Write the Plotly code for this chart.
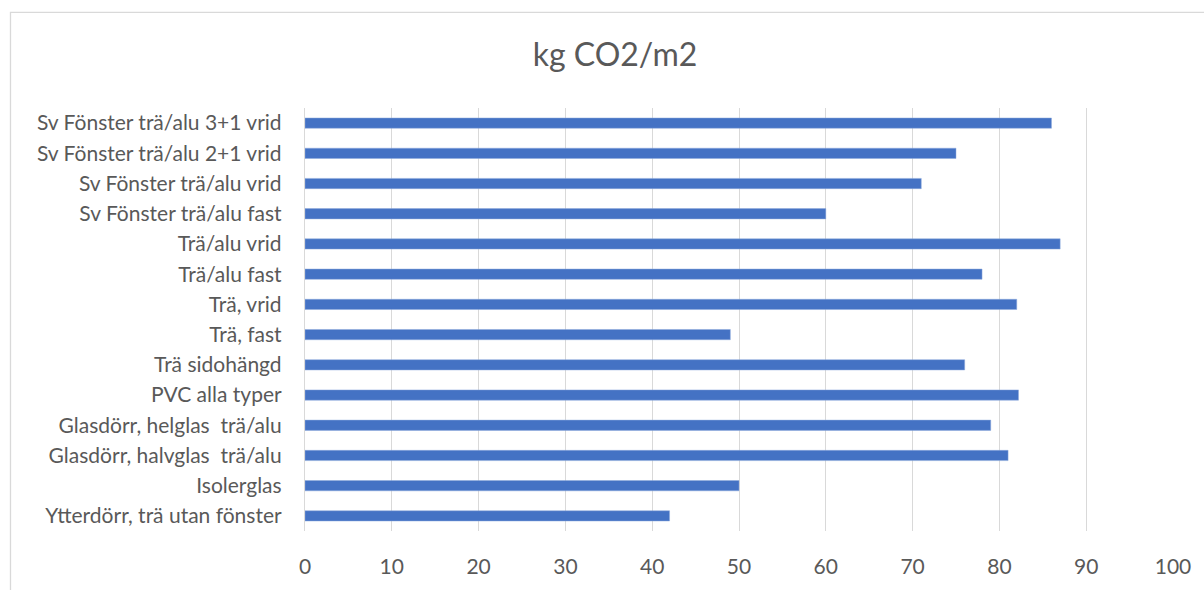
import plotly.graph_objects as go

categories = [
    "Sv Fönster trä/alu 3+1 vrid",
    "Sv Fönster trä/alu 2+1 vrid",
    "Sv Fönster trä/alu vrid",
    "Sv Fönster trä/alu fast",
    "Trä/alu vrid",
    "Trä/alu fast",
    "Trä, vrid",
    "Trä, fast",
    "Trä sidohängd",
    "PVC alla typer",
    "Glasdörr, helglas  trä/alu",
    "Glasdörr, halvglas  trä/alu",
    "Isolerglas",
    "Ytterdörr, trä utan fönster",
]
values = [86, 75, 71, 60, 87, 78, 82, 49, 76, 82.2, 79, 81, 50, 42]
x_ticks = [0, 10, 20, 30, 40, 50, 60, 70, 80, 90, 100]
title_text = "kg CO2/m2"

W, H = 1204, 590
L, R, T, B = 305, 31, 108, 55
pw, ph = W - L - R, H - T - B

fig = go.Figure(go.Bar(
    x=values, y=categories, orientation="h",
    marker=dict(color="#4472C4", line=dict(color="#8FAADC", width=0.5)),
    width=0.34,
))

font_family = "Lato, 'Open Sans', sans-serif"
fig.update_layout(
    width=W, height=H,
    margin=dict(l=L, r=R, t=T, b=B),
    paper_bgcolor="white", plot_bgcolor="white",
    showlegend=False,
    font=dict(family=font_family, color="#595959", size=21),
    title=dict(text=title_text, x=615 / W, xanchor="center",
               y=1 - 55 / H, yanchor="middle",
               font=dict(size=32, color="#595959", family=font_family)),
    xaxis=dict(range=[0, 100], tickvals=x_ticks, showgrid=True,
               gridcolor="#d9d9d9", gridwidth=1.3, zeroline=False,
               showline=False, ticks="outside", ticklen=17,
               tickcolor="rgba(0,0,0,0)", tickfont=dict(size=21)),
    yaxis=dict(autorange="reversed", showgrid=False, showline=True,
               linecolor="#d9d9d9", linewidth=1.3, ticks="outside",
               ticklen=18, tickcolor="rgba(0,0,0,0)", tickfont=dict(size=21)),
    shapes=[dict(type="rect", xref="paper", yref="paper",
                 x0=(10.5 - L) / pw, x1=(W + 10 - L) / pw,
                 y0=(H - B - (H + 10)) / ph, y1=(H - B - 11.5) / ph,
                 line=dict(color="#d9d9d9", width=1.3), fillcolor="rgba(0,0,0,0)",
                 layer="below")],
)

fig.write_html("out.html", config={"displayModeBar": False},
               post_script="document.body.style.margin='0';")
